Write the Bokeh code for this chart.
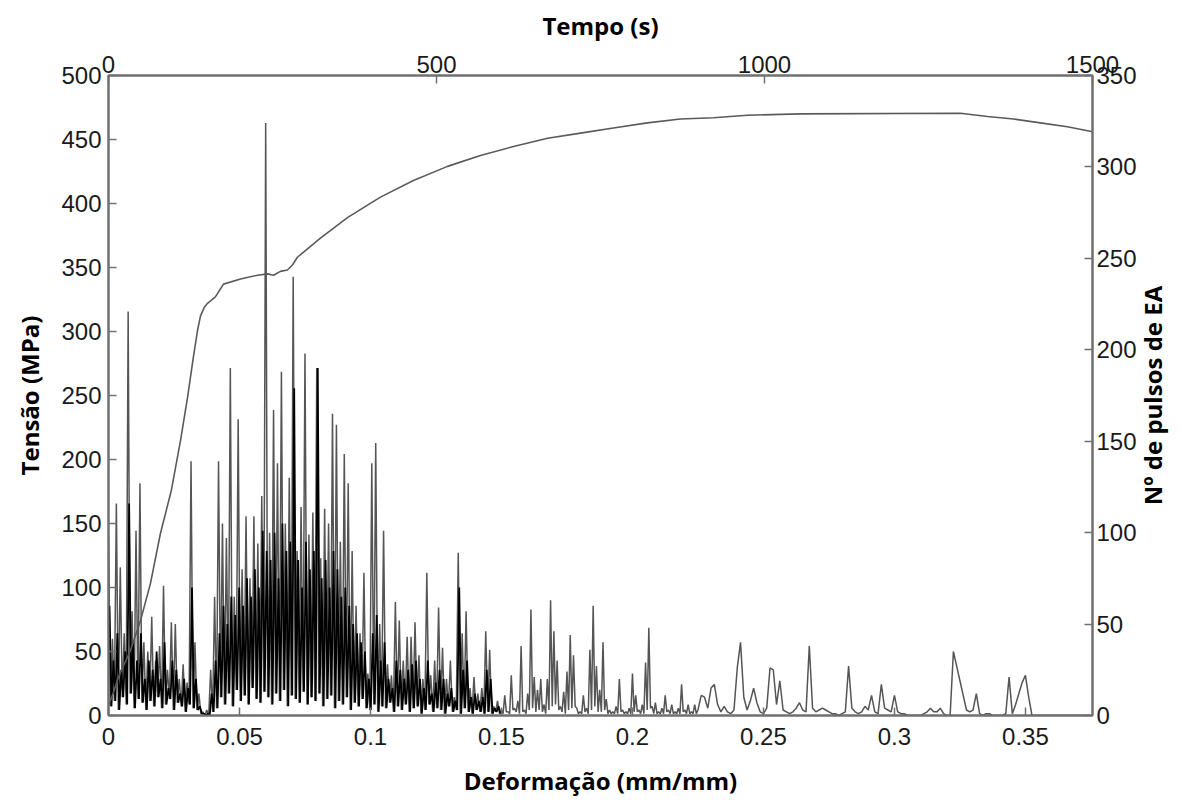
import math
from bokeh.plotting import figure
from bokeh.models import Range1d, LinearAxis, FixedTicker, CustomJSTickFormatter, Label
from bokeh.embed import file_html
from bokeh.resources import INLINE

# ---------------- data ----------------
strain_max = 0.3756
tempo_max = 1500

# stress-strain curve (Deformação mm/mm, Tensão MPa)
stress_strain = [0.0, 0.0019, 0.0038, 0.0084, 0.0122, 0.0160, 0.0198, 0.0240, 0.0275,
                 0.0302, 0.0324, 0.0340, 0.0351, 0.0366, 0.0378, 0.0408, 0.0439, 0.0504,
                 0.0569, 0.0607, 0.0630, 0.0656, 0.0683, 0.0702, 0.0721, 0.0809, 0.0912,
                 0.1038, 0.1164, 0.1294, 0.1420, 0.1546, 0.1676, 0.1802, 0.1927, 0.2057,
                 0.2183, 0.2309, 0.2439, 0.2641, 0.3252, 0.3355, 0.3454, 0.3557, 0.3660,
                 0.3756]
stress_mpa = [8, 18, 30, 51, 74, 103, 142, 176, 215,
              249, 280, 301, 312, 319, 322, 327, 337, 341,
              344, 345, 344, 347, 348, 352, 358, 373, 389,
              405, 418, 429, 437.5, 444.5, 451, 455, 459, 463,
              466, 467, 469, 470, 470.5, 468, 466, 463, 460,
              456]

# EA pulses (Nº de pulsos), dense part (0 - 0.15): grey spikes, peaks / troughs
ea_dense_step = 0.00075
ea_dense_peaks = [98, 42, 116, 81, 45, 221, 57, 101, 127, 40,
                  35, 54, 30, 38, 71, 25, 51, 50, 20, 28,
                  18, 139, 40, 12, 2, 3, 25, 65, 139, 105,
                  97, 190, 65, 162, 80, 109, 75, 109, 94, 120,
                  324, 100, 167, 138, 188, 105, 130, 240, 90, 114,
                  198, 99, 111, 190, 86, 113, 105, 165, 159, 95,
                  143, 127, 90, 60, 45, 78, 23, 138, 149, 50,
                  101, 28, 22, 62, 52, 30, 43, 43, 51, 33,
                  20, 78, 22, 30, 59, 37, 20, 30, 10, 89,
                  45, 57, 15, 21, 12, 15, 46, 36, 5, 8]
ea_dense_troughs = [5, 8, 3, 10, 6, 12, 4, 9, 7, 3,
                    8, 5, 10, 4, 6, 9, 3, 7, 5, 2,
                    6, 4, 3, 1, 0, 0, 2, 4, 10, 6,
                    12, 5, 14, 8, 11, 6, 15, 9, 7, 13,
                    10, 6, 12, 8, 14, 5, 11, 9, 7, 13,
                    6, 10, 8, 12, 5, 9, 11, 4, 8, 6,
                    10, 3, 7, 5, 9, 4, 3, 6, 2, 5,
                    4, 7, 2, 5, 3, 6, 2, 4, 5, 1,
                    3, 6, 2, 4, 3, 1, 5, 2, 3, 1,
                    4, 2, 1, 3, 2, 1, 2, 1, 2, 1]
# dense part: black (dense) spikes, between the grey ones
ea_dense_black = [60, 30, 45, 25, 35, 116, 40, 30, 45, 20,
                  30, 25, 35, 20, 40, 15, 30, 25, 12, 20,
                  15, 70, 20, 5, 1, 1, 12, 30, 45, 60,
                  50, 65, 55, 70, 60, 75, 65, 80, 70, 101,
                  90, 85, 100, 75, 105, 90, 95, 179, 85, 70,
                  95, 80, 90, 190, 75, 85, 70, 90, 80, 65,
                  70, 60, 50, 45, 40, 35, 20, 45, 55, 30,
                  40, 20, 15, 30, 25, 20, 25, 28, 30, 20,
                  15, 30, 12, 18, 25, 20, 12, 15, 8, 70,
                  25, 30, 10, 12, 8, 10, 25, 20, 4, 5]
# 0.15 - 0.225: thin spikes, peaks / troughs
ea_fine_start = 0.15
ea_fine_step = 0.000625
ea_fine_peaks = [3, 11, 2, 22, 4, 8, 38, 3, 12, 58,
                 21, 14, 20, 6, 20, 63, 46, 30, 5, 13,
                 24, 44, 33, 4, 2, 11, 4, 36, 60, 27,
                 14, 40, 9, 3, 2, 5, 20, 3, 2, 4,
                 23, 11, 3, 6, 29, 48, 5, 7, 2, 4,
                 11, 3, 6, 2, 4, 17, 3, 6, 2, 6]
ea_fine_troughs = [1, 2, 1, 3, 2, 1, 2, 1, 3, 4,
                   2, 3, 2, 1, 3, 5, 6, 3, 2, 1,
                   3, 4, 5, 1, 1, 2, 1, 3, 5, 2,
                   2, 3, 1, 1, 1, 1, 2, 1, 1, 1,
                   2, 2, 1, 1, 3, 4, 1, 1, 1, 1,
                   2, 1, 1, 1, 1, 2, 1, 1, 1, 1]
# 0.225 - end: sparse bumps
ea_sparse_start = 0.225
ea_sparse_step = 0.00125
ea_sparse = [3, 11, 10, 4, 15, 17, 6, 2, 5, 2,
             1, 3, 26, 40, 10, 3, 8, 15, 7, 2,
             1, 4, 26, 25, 6, 19, 3, 2, 1, 2,
             4, 7, 3, 2, 38, 4, 2, 3, 4, 3,
             2, 1, 1, 0, 1, 2, 27, 4, 2, 1,
             2, 5, 3, 11, 2, 1, 17, 4, 3, 2,
             11, 2, 1, 1, 0, 0, 0, 0, 0, 1,
             2, 4, 2, 2, 4, 1, 0, 0, 35, 27,
             19, 11, 3, 2, 3, 12, 1, 0, 1, 1,
             0, 0, 0, 0, 1, 21, 1, 6, 12, 18,
             22, 10, 0, 0, 0, 0, 0, 0, 0, 0,
             0, 0, 0, 0, 0, 0, 0, 0, 0, 0, 0]

left_ticks = [0, 50, 100, 150, 200, 250, 300, 350, 400, 450, 500]
right_ticks = [0, 50, 100, 150, 200, 250, 300, 350]
top_ticks = [0, 500, 1000, 1500]
bottom_ticks = [0, 0.05, 0.1, 0.15, 0.2, 0.25, 0.3, 0.35]

right_title = "Nº de pulsos de EA"

# ---------------- build ----------------
grey_y = []
black_y = []
for a, b, c in zip(ea_dense_peaks, ea_dense_troughs, ea_dense_black):
    grey_y += [a, b]
    black_y += [c, b]
grey_x = [i * ea_dense_step for i in range(len(grey_y))]
black_x = [(i + 0.5) * ea_dense_step for i in range(len(black_y))]

fine_y = []
for a, b in zip(ea_fine_peaks, ea_fine_troughs):
    fine_y += [a, b]
fine_x = [ea_fine_start + i * ea_fine_step for i in range(len(fine_y))]
grey_x += fine_x
grey_y += fine_y

grey_x += [ea_sparse_start + j * ea_sparse_step for j in range(len(ea_sparse))]
grey_y += ea_sparse

p = figure(width=1185, height=803, output_backend="svg", toolbar_location=None,
           x_range=Range1d(0, strain_max), y_range=Range1d(0, 500),
           min_border_left=108, min_border_right=93, min_border_top=75,
           min_border_bottom=88)
p.extra_x_ranges = {"tempo": Range1d(0, tempo_max)}
p.extra_y_ranges = {"ea": Range1d(0, 350)}

bottom = p.below[0]
left = p.left[0]

p.xgrid.visible = False
p.ygrid.visible = False
p.background_fill_color = "white"
p.border_fill_color = "white"
p.outline_line_color = "#707070"
p.outline_line_width = 2

p.line(grey_x, grey_y, y_range_name="ea", line_color="#555555", line_width=1.5)
p.line(black_x, black_y, y_range_name="ea", line_color="#000000", line_width=1.8)
p.line(stress_strain, stress_mpa, line_color="#5a5a5a", line_width=1.6)

top = LinearAxis(x_range_name="tempo", ticker=FixedTicker(ticks=top_ticks),
                 axis_label="Tempo (s)")
right = LinearAxis(y_range_name="ea", ticker=FixedTicker(ticks=right_ticks))
p.add_layout(top, "above")
p.add_layout(right, "right")

bottom.ticker = FixedTicker(ticks=bottom_ticks)
bottom.formatter = CustomJSTickFormatter(code="return String(Number(tick.toFixed(2)));")
bottom.axis_label = "Deformação (mm/mm)"
left.ticker = FixedTicker(ticks=left_ticks)
left.axis_label = "Tensão (MPa)"

for ax in [bottom, left, top, right]:
    ax.major_tick_in = 8
    ax.major_tick_out = 0
    ax.minor_tick_in = 0
    ax.minor_tick_out = 0
    ax.major_tick_line_color = "#707070"
    ax.major_tick_line_width = 1.5
    ax.axis_line_color = "#707070"
    ax.axis_line_width = 2
    ax.major_label_text_font = "Liberation Sans"
    ax.major_label_text_font_size = "24px"
    ax.major_label_text_color = "#1a1a1a"
    ax.axis_label_text_font = "Open Sans"
    ax.axis_label_text_font_style = "bold"
    ax.axis_label_text_font_size = "24px"
    ax.axis_label_text_color = "black"

left.major_label_standoff = 7
left.axis_label_standoff = 12
right.major_label_standoff = 4
top.major_label_standoff = 3
top.axis_label_standoff = 11
bottom.major_label_standoff = 12
bottom.axis_label_standoff = 16

# right-hand axis title, reading bottom-to-top, in the right side panel
p.add_layout(Label(x=0.3985, y=175, y_range_name="ea", text=right_title,
                   angle=math.pi / 2, text_align="center", text_baseline="middle",
                   text_font="Open Sans", text_font_style="bold",
                   text_font_size="24px", text_color="black"), "right")

open("out.html", "w").write(file_html(p, INLINE))
